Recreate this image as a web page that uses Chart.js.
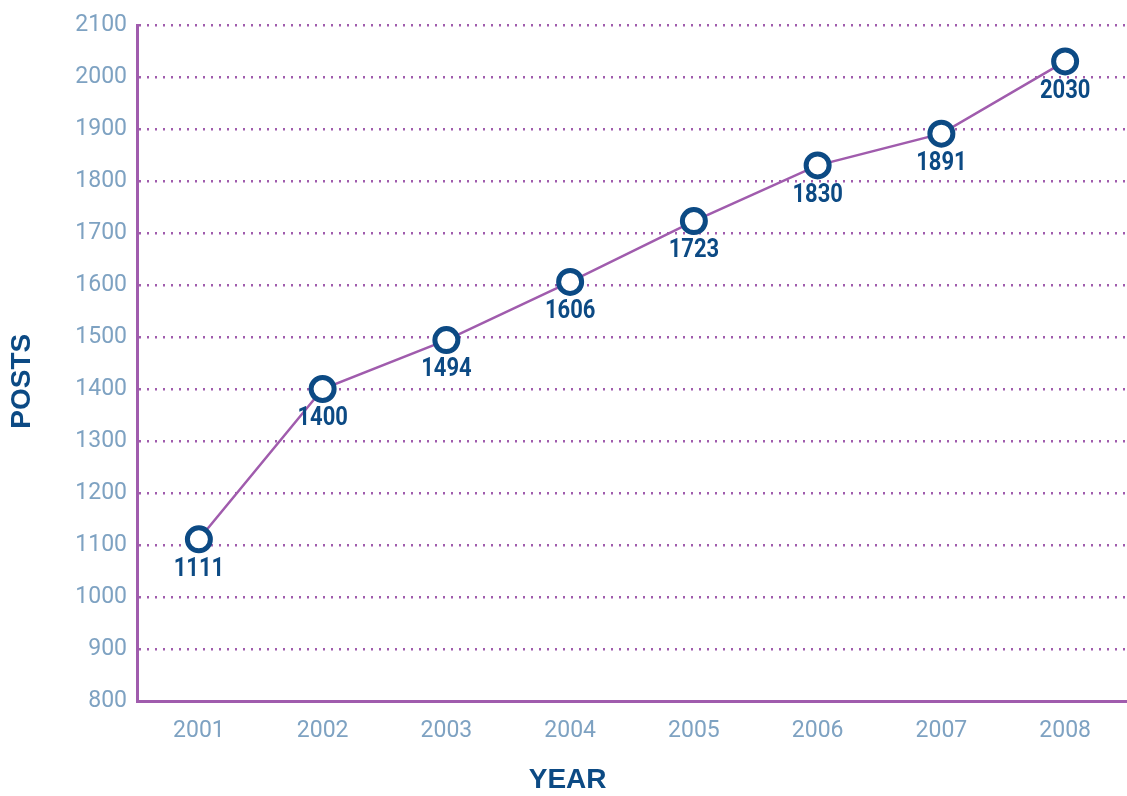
<!DOCTYPE html>
<html>
<head>
<meta charset="utf-8">
<script src="https://cdn.jsdelivr.net/npm/chart.js@4/dist/chart.umd.min.js"></script>
<style>
  html, body { margin: 0; padding: 0; background: #fff; }
  #wrap { width: 1127px; height: 796px; }
</style>
</head>
<body>
<div id="wrap"><canvas id="postsChart" width="1127" height="796"></canvas></div>
<script>
// values
const years = ['2001', '2002', '2003', '2004', '2005', '2006', '2007', '2008'];
const posts = [1111, 1400, 1494, 1606, 1723, 1830, 1891, 2030];
const yMin = 800;
const yMax = 2100;
const yStep = 100;
const xTitle = 'YEAR';
const yTitle = 'POSTS';

const purple = '#a05cad';
const navy = '#0c4a84';
const tickBlue = '#7ea2c2';
const titleFont = 'bold 28px "Liberation Sans", Arial, sans-serif';

// writes the value under each point (narrowed a little, like the original)
const valueLabels = {
  id: 'valueLabels',
  afterDatasetsDraw(chart) {
    const ctx = chart.ctx;
    const meta = chart.getDatasetMeta(0);
    ctx.font = 'bold 25px Roboto, sans-serif';
    ctx.fillStyle = navy;
    ctx.textAlign = 'center';
    ctx.textBaseline = 'middle';
    meta.data.forEach((pt, i) => {
      ctx.save();
      ctx.translate(pt.x, pt.y + 30);
      ctx.scale(0.88, 1);
      ctx.fillText(String(posts[i]), 0, 0);
      ctx.restore();
    });
  }
};

// axis titles sit off-centre in the original, so place them by hand
const axisTitles = {
  id: 'axisTitles',
  afterDraw(chart) {
    const ctx = chart.ctx;
    const area = chart.chartArea;
    ctx.save();
    ctx.font = titleFont;
    ctx.fillStyle = navy;
    ctx.textAlign = 'center';
    ctx.textBaseline = 'middle';
    ctx.fillText(xTitle, area.left + (area.right - area.left) * 0.435, chart.height - 16);
    ctx.translate(22, area.top + (area.bottom - area.top) * 0.527);
    ctx.rotate(-Math.PI / 2);
    ctx.fillText(yTitle, 0, 0);
    ctx.restore();
  }
};

new Chart(document.getElementById('postsChart'), {
  type: 'line',
  data: {
    labels: years,
    datasets: [{
      data: posts,
      borderColor: purple,
      borderWidth: 2.5,
      pointRadius: 11.5,
      pointHoverRadius: 11.5,
      pointBorderWidth: 5,
      pointBorderColor: navy,
      pointBackgroundColor: '#fff',
      tension: 0
    }]
  },
  options: {
    responsive: false,
    animation: false,
    layout: { autoPadding: false, padding: { top: 25, right: 0, bottom: 0, left: 0 } },
    plugins: {
      legend: { display: false },
      tooltip: { enabled: false }
    },
    scales: {
      x: {
        offset: true,
        grid: { display: false },
        border: { display: true, color: purple, width: 3 },
        ticks: {
          color: tickBlue,
          font: { family: 'Roboto', size: 23 },
          padding: 8
        },
        afterFit: scale => {
          scale.height = 95;
          scale.paddingLeft = 0;
          scale.paddingRight = 0;
        }
      },
      y: {
        min: yMin,
        max: yMax,
        grid: {
          color: purple,
          lineWidth: 2.5,
          drawTicks: false
        },
        border: { display: true, color: purple, width: 3, dash: [2, 6] },
        ticks: {
          stepSize: yStep,
          color: tickBlue,
          font: { family: 'Roboto', size: 23 },
          padding: 10,
          callback: v => String(v)
        },
        afterFit: scale => { scale.width = 137; }
      }
    }
  },
  plugins: [valueLabels, axisTitles]
});
</script>
</body>
</html>
